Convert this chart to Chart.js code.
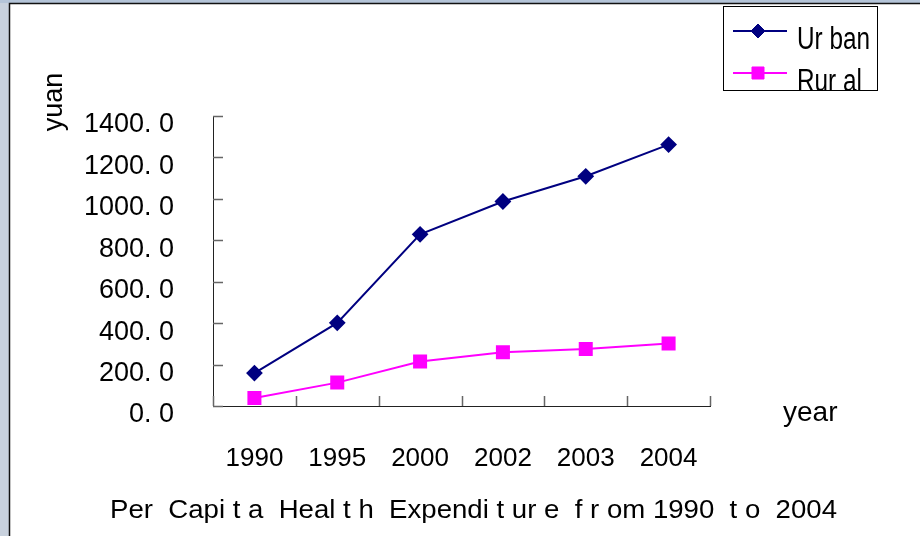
<!DOCTYPE html>
<html>
<head>
<meta charset="utf-8">
<script src="https://cdn.jsdelivr.net/npm/chart.js@4/dist/chart.umd.min.js"></script>
<style>
  html, body { margin: 0; padding: 0; background: #c8d1dd; }
  canvas { display: block; }
</style>
</head>
<body>
<canvas id="healthChart" width="920" height="536"></canvas>
<script>
const years = ['1990', '1995', '2000', '2002', '2003', '2004'];
const urbanValues = [158.8, 401.3, 828.6, 987.1, 1108.9, 1261.9];
const ruralValues = [38.8, 112.9, 214.7, 259.3, 274.7, 301.6];
const seriesNames = ['Ur ban', 'Rur al'];
const yMin = 0, yMax = 1400, yStep = 200;
const chartTitle = 'Per  Capi t a  Heal t h  Expendi t ur e  f r om 1990  t o  2004';
const yAxisName = 'yuan';
const xAxisName = 'year';

const FONT = '"Liberation Sans", Arial, sans-serif';

// background panel, inside tick marks, axis names, title and legend
const decorations = {
    id: 'decorations',
    beforeDraw(chart) {
        const ctx = chart.ctx;
        ctx.save();
        ctx.fillStyle = '#c8d1dd';
        ctx.fillRect(0, 0, 920, 536);
        ctx.fillStyle = '#b4c4d8';
        ctx.fillRect(0, 0, 920, 3);
        ctx.fillStyle = '#ffffff';
        ctx.fillRect(9, 3, 911, 533);
        ctx.strokeStyle = '#111';
        ctx.lineWidth = 1.5;
        ctx.beginPath();
        ctx.moveTo(9.5, 536);
        ctx.lineTo(9.5, 3.5);
        ctx.lineTo(920, 3.5);
        ctx.stroke();
        ctx.restore();
    },
    afterDraw(chart) {
        const ctx = chart.ctx;
        const x = chart.scales.x;
        const y = chart.scales.y;
        const area = chart.chartArea;
        ctx.save();

        // tick marks pointing into the plot
        ctx.strokeStyle = '#666';
        ctx.lineWidth = 1.5;
        ctx.beginPath();
        for (let v = yMin; v <= yMax; v += yStep) {
            const py = Math.round(y.getPixelForValue(v)) + 0.5;
            ctx.moveTo(area.left, py);
            ctx.lineTo(area.left + 10, py);
        }
        for (let i = 0; i <= years.length; i++) {
            const px = Math.round(x.getPixelForValue(i - 0.5)) + 0.5;
            ctx.moveTo(px, area.bottom);
            ctx.lineTo(px, area.bottom - 10);
        }
        ctx.stroke();

        ctx.fillStyle = '#000';

        // y axis name
        ctx.save();
        ctx.translate(62, 102);
        ctx.rotate(-Math.PI / 2);
        ctx.font = '27px ' + FONT;
        ctx.textAlign = 'center';
        ctx.textBaseline = 'alphabetic';
        ctx.fillText(yAxisName, 0, 0);
        ctx.restore();

        // x axis name
        ctx.font = '28px ' + FONT;
        ctx.textAlign = 'left';
        ctx.textBaseline = 'alphabetic';
        ctx.fillText(xAxisName, 783, 421);

        // title, fitted to the original width
        ctx.font = '25px ' + FONT;
        const w = ctx.measureText(chartTitle).width;
        ctx.save();
        ctx.translate(110, 518);
        ctx.scale(727 / w, 1);
        ctx.textAlign = 'left';
        ctx.fillText(chartTitle, 0, 0);
        ctx.restore();

        // legend box
        const lx = 723, ly = 6, lw = 154, lh = 84;
        ctx.fillStyle = '#fff';
        ctx.fillRect(lx, ly, lw, lh);
        ctx.save();
        ctx.beginPath();
        ctx.rect(lx, ly, lw, lh);
        ctx.clip();
        ctx.font = '31px ' + FONT;
        const sx = 73 / ctx.measureText(seriesNames[0]).width;
        chart.data.datasets.forEach((ds, i) => {
            const cy = 31 + i * 42;
            ctx.strokeStyle = ds.borderColor;
            ctx.lineWidth = 2;
            ctx.beginPath();
            ctx.moveTo(733, cy);
            ctx.lineTo(787, cy);
            ctx.stroke();
            ctx.fillStyle = ds.pointBackgroundColor;
            ctx.strokeStyle = ds.pointBorderColor;
            ctx.lineWidth = 1;
            Chart.helpers.drawPoint(ctx, {
                pointStyle: ds.pointStyle,
                radius: ds.pointRadius,
                rotation: 0,
                borderWidth: 1
            }, 758, cy);
            ctx.fillStyle = '#000';
            ctx.textAlign = 'left';
            ctx.textBaseline = 'alphabetic';
            ctx.save();
            ctx.translate(797, cy + 18);
            ctx.scale(sx, 1);
            ctx.fillText(ds.label, 0, 0);
            ctx.restore();
        });
        ctx.restore();
        ctx.strokeStyle = '#000';
        ctx.lineWidth = 1;
        ctx.strokeRect(lx + 0.5, ly + 0.5, lw, lh);

        ctx.restore();
    }
};

const ctx = document.getElementById('healthChart').getContext('2d');
new Chart(ctx, {
    type: 'line',
    data: {
        labels: years,
        datasets: [{
            label: seriesNames[0],
            data: urbanValues,
            borderColor: '#000080',
            backgroundColor: '#000080',
            pointBackgroundColor: '#000080',
            pointBorderColor: '#000080',
            pointStyle: 'rectRot',
            pointRadius: 7,
            borderWidth: 2,
            tension: 0
        }, {
            label: seriesNames[1],
            data: ruralValues,
            borderColor: '#ff00ff',
            backgroundColor: '#ff00ff',
            pointBackgroundColor: '#ff00ff',
            pointBorderColor: '#ff00ff',
            pointStyle: 'rect',
            pointRadius: 8.5,
            borderWidth: 2,
            tension: 0
        }]
    },
    options: {
        responsive: false,
        animation: false,
        events: [],
        layout: {
            padding: { left: 0, top: 116, right: 210, bottom: 0 }
        },
        plugins: {
            legend: { display: false },
            title: { display: false },
            tooltip: { enabled: false }
        },
        scales: {
            x: {
                offset: true,
                grid: { display: false, drawTicks: false },
                border: { display: true, color: '#222', width: 1 },
                ticks: {
                    color: '#000',
                    font: { family: FONT, size: 26 },
                    padding: 37,
                    maxRotation: 0,
                    autoSkip: false
                },
                afterFit(scale) { scale.height = 130; }
            },
            y: {
                min: yMin,
                max: yMax,
                grid: { display: false, drawTicks: false },
                border: { display: true, color: '#222', width: 1 },
                ticks: {
                    stepSize: yStep,
                    color: '#000',
                    font: { family: FONT, size: 27 },
                    padding: 39,
                    labelOffset: 9,
                    callback: v => v.toFixed(1).replace('.', '. ')
                },
                afterFit(scale) { scale.width = 213; }
            }
        }
    },
    plugins: [decorations]
});
</script>
</body>
</html>
